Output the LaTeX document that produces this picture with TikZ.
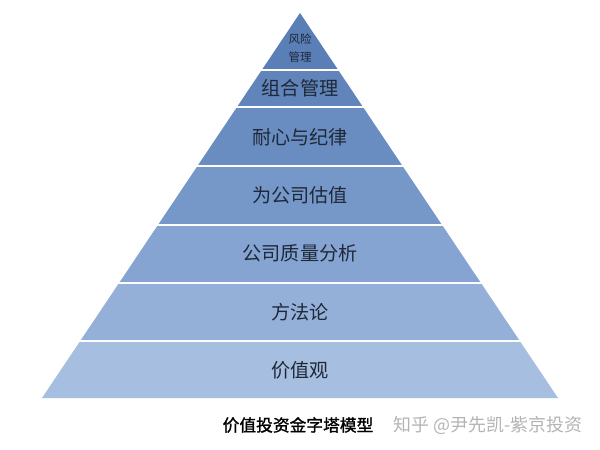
\documentclass[tikz,border=0pt]{standalone}
\usepackage{fontspec}
\newfontfamily\cjk{Noto Sans CJK SC}
\newfontfamily\cjkb[FakeBold=1.2]{Noto Sans CJK SC}
\usetikzlibrary{calc}
\definecolor{layA}{HTML}{5A7EB6}
\definecolor{layB}{HTML}{6185BB}
\definecolor{layC}{HTML}{6A8DC1}
\definecolor{layD}{HTML}{7698C9}
\definecolor{layE}{HTML}{85A4D1}
\definecolor{layF}{HTML}{94B0D8}
\definecolor{layG}{HTML}{A6BEDF}
\definecolor{txt}{HTML}{1E2838}
\definecolor{wm}{HTML}{B4B4B4}
\tikzset{
  lbl/.style={inner sep=0pt, text=txt, font=\cjk\fontsize{19.2}{21}\selectfont},
  lblsmall/.style={inner sep=0pt, text=txt, font=\cjk\fontsize{11.5}{13}\selectfont},
  caption/.style={inner sep=0pt, text=black, font=\cjkb\fontsize{16.8}{18}\selectfont},
  watermark/.style={inner sep=0pt, text=wm, font=\cjk\fontsize{18}{20}\selectfont},
  sep/.style={draw=white, line width=2.6bp}
}
\begin{document}
\begin{tikzpicture}[x=1bp,y=-1bp]
\useasboundingbox[fill=white] (0,0) rectangle (600,450);
\coordinate (apex) at (300,13);
\coordinate (bl) at (42,398);
\coordinate (br) at (558,398);
\foreach \ya/\yb/\c in {13/70/layA, 70/107/layB, 107/166/layC, 166/225/layD, 225/283/layE, 283/341/layF, 341/398/layG}{
  \fill[\c] ($(apex)!{(\ya-13)/385}!(bl)$) -- ($(apex)!{(\ya-13)/385}!(br)$)
    -- ($(apex)!{(\yb-13)/385}!(br)$) -- ($(apex)!{(\yb-13)/385}!(bl)$) -- cycle;
}
\foreach \y in {70,107,166,225,283,341}{
  \draw[sep] ($(apex)!{(\y-13)/385}!(bl)+(-3,0)$) -- ($(apex)!{(\y-13)/385}!(br)+(3,0)$);
}
\node[lblsmall] (t1a) at (300,39) {风险};
\node[lblsmall] (t1b) at (300,57.5) {管理};
\node[lbl] (t2) at (300,88.5) {组合管理};
\node[lbl] (t3) at (300,137) {耐心与纪律};
\node[lbl] (t4) at (300,195.5) {为公司估值};
\node[lbl] (t5) at (300,253.5) {公司质量分析};
\node[lbl] (t6) at (300,312) {方法论};
\node[lbl] (t7) at (300,370) {价值观};
\node[caption] (cap) at (298,425) {价值投资金字塔模型};
\node[watermark] (wmk) at (488,425) {知乎 @尹先凯-紫京投资};
\end{tikzpicture}
\end{document}
